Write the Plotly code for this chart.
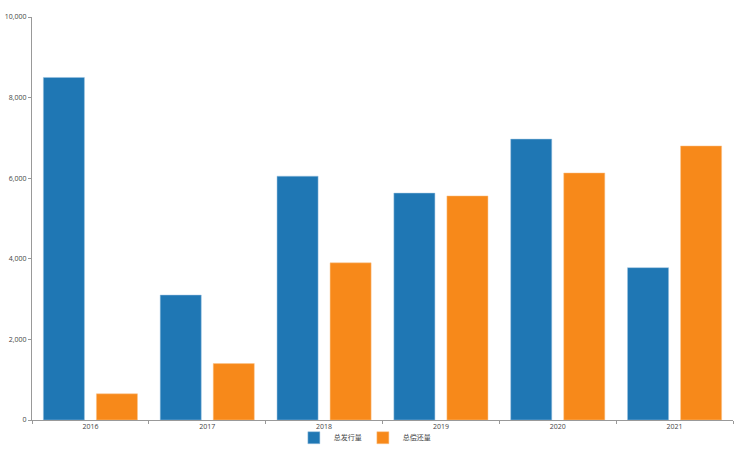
import plotly.graph_objects as go

years = ["2016", "2017", "2018", "2019", "2020", "2021"]
issued = [8500, 3100, 6050, 5630, 6970, 3780]
repaid = [650, 1400, 3900, 5560, 6130, 6800]

fig = go.Figure()
fig.add_trace(go.Bar(x=years, y=issued, name="总发行量",
                     marker=dict(color="#1f77b4", line=dict(color="#9cc3e0", width=0.5))))
fig.add_trace(go.Bar(x=years, y=repaid, name="总偿还量",
                     marker=dict(color="#f7891a", line=dict(color="#fbc48c", width=0.5))))

fig.update_layout(
    width=741, height=453,
    barmode="group", bargap=0.092, bargroupgap=0.226,
    margin=dict(l=32, r=8, t=17, b=33, autoexpand=False),
    plot_bgcolor="white", paper_bgcolor="white",
    font=dict(family="Open Sans, Noto Sans CJK SC", size=7, color="#444"),
    showlegend=True,
    legend=dict(orientation="h", x=0.472, xanchor="center", y=-0.008, yanchor="top",
                bgcolor="rgba(0,0,0,0)", font=dict(size=7), itemwidth=30,
                entrywidth=24, entrywidthmode="pixels",
                traceorder="normal", tracegroupgap=0),
    xaxis=dict(showline=True, linecolor="#999", linewidth=1, ticks="outside",
               tickson="boundaries", ticklen=3, tickcolor="#999", showgrid=False,
               automargin=False),
    yaxis=dict(range=[0, 10000], dtick=2000, tickformat=",d", showline=True,
               linecolor="#999", linewidth=1, ticks="outside", ticklen=3,
               tickcolor="#999", showgrid=False, zeroline=False, automargin=False),
)

# drop the default page margin so the figure sits at the window's corner
fig.write_html("out.html", config={"displayModeBar": False},
               post_script="document.body.style.margin='0';")
